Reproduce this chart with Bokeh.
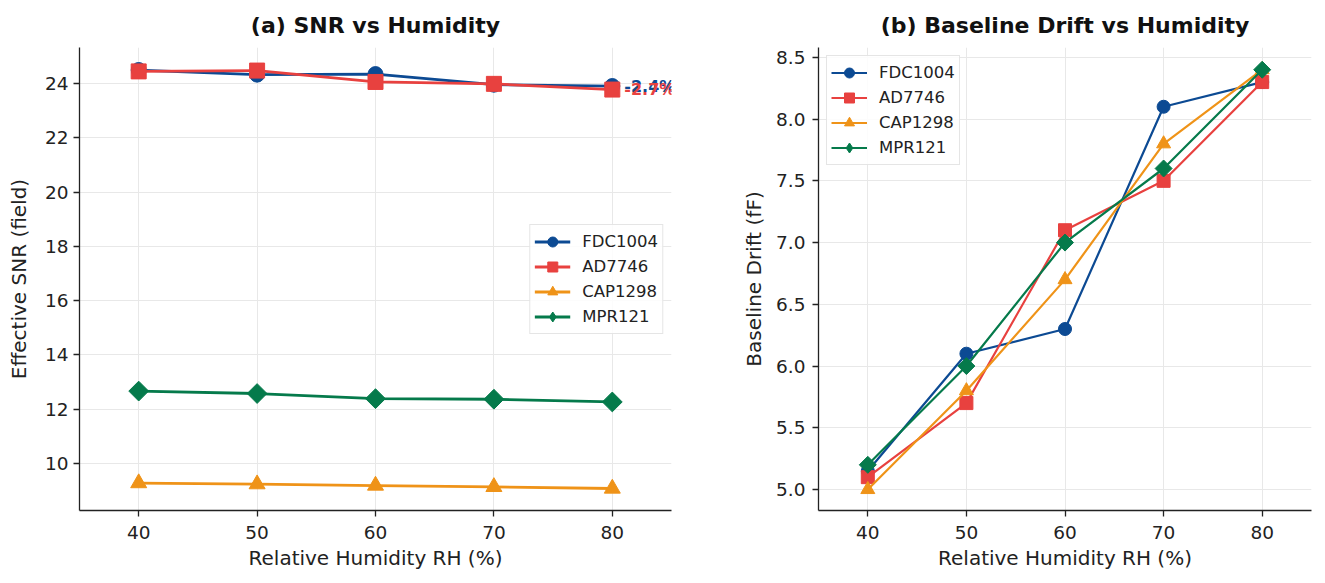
from bokeh.plotting import figure
from bokeh.layouts import row
from bokeh.models import FixedTicker, PrintfTickFormatter, Range1d, Label, Legend, LegendItem
from bokeh.embed import file_html
from bokeh.resources import INLINE

FONT = "DejaVu Sans"

humidity = [40, 50, 60, 70, 80]
sensors = ["FDC1004", "AD7746", "CAP1298", "MPR121"]
colors = ["#0C4A93", "#E8413F", "#EF9318", "#057A4B"]
markers = ["circle", "square", "triangle", "diamond"]

snr_fdc1004 = [24.50, 24.33, 24.35, 23.96, 23.91]
snr_ad7746 = [24.45, 24.48, 24.06, 23.99, 23.78]
snr_cap1298 = [9.28, 9.24, 9.19, 9.14, 9.08]
snr_mpr121 = [12.67, 12.58, 12.39, 12.37, 12.27]

drift_fdc1004 = [5.15, 6.1, 6.3, 8.1, 8.3]
drift_ad7746 = [5.1, 5.7, 7.1, 7.5, 8.3]
drift_cap1298 = [5.0, 5.8, 6.7, 7.8, 8.4]
drift_mpr121 = [5.2, 6.0, 7.0, 7.6, 8.4]

snr_change_labels = ["-2.4%", "-2.7%"]  # FDC1004, AD7746

snr_ticks = [10, 12, 14, 16, 18, 20, 22, 24]
drift_ticks = [5.0, 5.5, 6.0, 6.5, 7.0, 7.5, 8.0, 8.5]
x_ticks = [40, 50, 60, 70, 80]


def style(p, xlabel, ylabel, label_standoff, tick_standoff):
    p.title.text_font = FONT
    p.title.text_font_size = "22px"
    p.title.text_font_style = "bold"
    p.title.align = "center"
    p.title.text_color = "#111111"
    p.title.standoff = 20
    p.outline_line_color = None
    p.background_fill_color = "white"
    p.border_fill_color = "white"
    p.xaxis.axis_label = xlabel
    p.yaxis.axis_label = ylabel
    for ax in (p.xaxis[0], p.yaxis[0]):
        ax.axis_label_text_font = FONT
        ax.axis_label_text_font_size = "20px"
        ax.axis_label_text_font_style = "normal"
        ax.axis_label_text_color = "#222222"
        ax.major_label_text_font = FONT
        ax.major_label_text_font_size = "18.5px"
        ax.major_label_text_color = "#222222"
        ax.axis_line_color = "#222222"
        ax.axis_line_width = 1.3
        ax.major_tick_line_color = "#222222"
        ax.major_tick_line_width = 1.3
        ax.major_tick_out = 6
        ax.major_tick_in = 0
        ax.minor_tick_line_color = None
    p.xaxis.major_label_standoff = 9
    p.xaxis.axis_label_standoff = 4
    p.yaxis.major_label_standoff = tick_standoff
    p.yaxis.axis_label_standoff = label_standoff
    p.xaxis.ticker = FixedTicker(ticks=x_ticks)
    p.grid.grid_line_color = "#e8e8e8"
    p.grid.grid_line_width = 1


def draw_series(p, series, lw, sizes):
    items = []
    for name, ys, c, m in zip(sensors, series, colors, markers):
        lr = p.line(humidity, ys, line_color=c, line_width=lw)
        if m == "diamond":
            p.scatter(humidity, ys, marker="square", angle=0.785398, size=sizes[m],
                      fill_color=c, line_color=c)
            # legend-only glyph (zero size on the plot)
            lg_r = p.scatter(humidity, ys, marker="diamond", size=0, fill_color=c, line_color=c)
            items.append(LegendItem(label=name, renderers=[lr, lg_r]))
        else:
            sr = p.scatter(humidity, ys, marker=m, size=sizes[m], fill_color=c, line_color=c)
            items.append(LegendItem(label=name, renderers=[lr, sr]))
    return items


def add_legend(p, items, loc):
    lg = Legend(items=items, location=loc)
    lg.label_text_font = FONT
    lg.label_text_font_size = "16.5px"
    lg.label_text_color = "#222222"
    lg.glyph_width = 36
    lg.glyph_height = 25
    lg.label_height = 20
    lg.label_standoff = 12
    lg.spacing = 0
    lg.padding = 4
    lg.margin = 8
    lg.border_line_color = "#cccccc"
    lg.border_line_width = 1
    lg.background_fill_alpha = 0.85
    p.add_layout(lg, "center")


# ---- (a) SNR
p1 = figure(frame_width=592, frame_height=463, min_border_left=79, min_border_right=26,
            min_border_top=47, min_border_bottom=65,
            x_range=Range1d(35, 85), y_range=Range1d(8.27, 25.33),
            title="(a) SNR vs Humidity", output_backend="svg", toolbar_location=None)
style(p1, "Relative Humidity RH (%)", "Effective SNR (field)", 11, 5)
p1.yaxis.ticker = FixedTicker(ticks=snr_ticks)

snr_series = [snr_fdc1004, snr_ad7746, snr_cap1298, snr_mpr121]
items1 = draw_series(p1, snr_series, 2.8, {"circle": 15, "square": 15, "triangle": 16, "diamond": 14})

for i in range(2):
    ys = snr_series[i]
    p1.add_layout(Label(x=humidity[-1], y=ys[-1], text=snr_change_labels[i], x_offset=12,
                        text_baseline="middle", text_align="left", text_color=colors[i],
                        text_font=FONT, text_font_size="16px", text_font_style="bold"))
add_legend(p1, items1, "right")

# ---- (b) Baseline drift
p2 = figure(frame_width=493, frame_height=463, min_border_left=121, min_border_right=6,
            min_border_top=47, min_border_bottom=65,
            x_range=Range1d(35, 85), y_range=Range1d(4.83, 8.58),
            title="(b) Baseline Drift vs Humidity", output_backend="svg", toolbar_location=None)
style(p2, "Relative Humidity RH (%)", "Baseline Drift (fF)", 7, 7)
p2.yaxis.ticker = FixedTicker(ticks=drift_ticks)
p2.yaxis.formatter = PrintfTickFormatter(format="%.1f")

drift_series = [drift_fdc1004, drift_ad7746, drift_cap1298, drift_mpr121]
items2 = draw_series(p2, drift_series, 2.2, {"circle": 13, "square": 13, "triangle": 14, "diamond": 12})
add_legend(p2, items2, "top_left")

layout = row(p1, p2)
open("out.html", "w").write(file_html(layout, INLINE))
